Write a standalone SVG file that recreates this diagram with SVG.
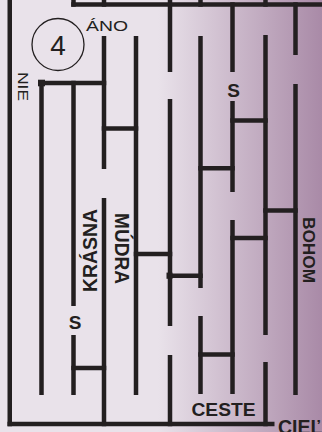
<svg xmlns="http://www.w3.org/2000/svg" width="322" height="432" viewBox="0 0 322 432">
<defs>
<linearGradient id="bg" gradientUnits="userSpaceOnUse" x1="158" y1="0" x2="322" y2="0">
<stop offset="0" stop-color="#e9e2ea"/>
<stop offset="1" stop-color="#a98aa7"/>
</linearGradient>
</defs>
<style>
.w{stroke:#231f20;stroke-width:4.5;stroke-linecap:butt;fill:none}
.t{fill:#231f20;font-family:"Liberation Sans",Arial,sans-serif}
.b{font-weight:bold}
</style>
<rect width="322" height="432" fill="#e9e2ea"/>
<rect x="158" width="164" height="432" fill="url(#bg)"/>
<g id="walls">
<path class="w" d="M9.75,0V426.25 M41.5,80.75V395 M73.5,0V6.75 M73.5,80.75V306 M73.5,335V395 M104,0V6.75 M104,36V169 M104,198V426.25 M136,36V395 M170,0V72 M170,99V326 M170,355V426.25 M200.5,0V6.75 M200.5,36V288 M200.5,316V394 M232.5,2.25V72 M232.5,101V192 M232.5,220V394 M265.5,0V6.75 M265.5,35V335 M265.5,362V426.25 M295.5,2.25V55 M295.5,84V395"/>
<path class="w" d="M71.25,4.5H322 M39.25,83H106.25 M101.75,128.5H138.25 M230.25,120.5H267.75 M198.25,168.3H234.75 M263.25,210.5H297.75 M230.25,238H267.75 M133.75,254H172.25 M167.5,275.7H202.75 M198.25,354.5H234.75 M71.25,368H106.25 M7.5,424H274.5"/>
<rect x="38" y="79.7" width="7" height="6.6" fill="#231f20"/>
<rect x="166.5" y="272.6" width="6" height="6.2" fill="#231f20"/>
</g>
<g id="start">
<circle cx="58" cy="44.5" r="26" fill="none" stroke="#231f20" stroke-width="1.3"/>
<text class="t" x="58" y="55" font-size="28" text-anchor="middle">4</text>
<text class="t" x="86" y="31" font-size="14.5" textLength="42" lengthAdjust="spacingAndGlyphs">ÁNO</text>
<text class="t" transform="translate(18,72) rotate(90)" font-size="15.5" textLength="29" lengthAdjust="spacingAndGlyphs">NIE</text>
</g>
<g id="labels">
<text class="t b" x="233.5" y="97" font-size="19" text-anchor="middle">S</text>
<text class="t b" x="75" y="329" font-size="19" text-anchor="middle">S</text>
<text class="t b" transform="translate(97,292) rotate(-90)" font-size="19.5" textLength="83" lengthAdjust="spacingAndGlyphs">KRÁSNA</text>
<text class="t b" transform="translate(115,213) rotate(90)" font-size="19.5" textLength="71" lengthAdjust="spacingAndGlyphs">MÚDRA</text>
<text class="t b" transform="translate(303,217) rotate(90)" font-size="17" textLength="66" lengthAdjust="spacingAndGlyphs">BOHOM</text>
<text class="t b" x="191.5" y="416" font-size="19" textLength="64" lengthAdjust="spacingAndGlyphs">CESTE</text>
<text class="t b" x="278" y="433.5" font-size="19.5">CIEĽ</text>
</g>
</svg>
